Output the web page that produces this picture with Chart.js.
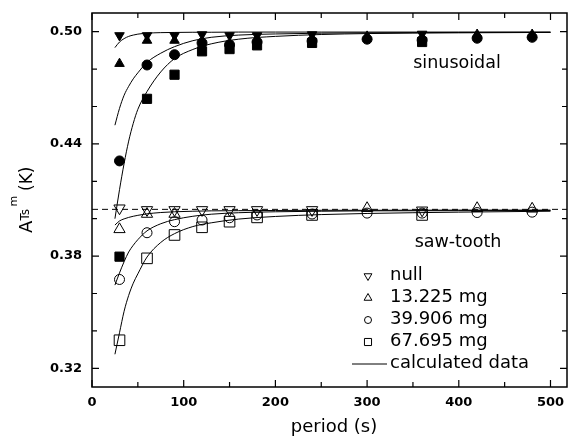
<!DOCTYPE html>
<html>
<head>
<meta charset="utf-8">
<script src="https://cdn.jsdelivr.net/npm/chart.js@4.4.0/dist/chart.umd.min.js"></script>
<style>
html, body { margin: 0; padding: 0; background: #fff; }
</style>
</head>
<body>
<canvas id="chart" width="568" height="437"></canvas>
<script>
// measured periods (s)
const periods = [30, 60, 90, 120, 150, 180, 240, 300, 360, 420, 480];

// sinusoidal excitation (filled markers)
const sinNull = [0.498, 0.498, 0.498, 0.4985, 0.498, 0.498, 0.4985, null, 0.4988, null, null];
const sin13 = [0.4829, 0.4953, 0.4953, null, null, null, null, 0.4975, null, 0.4985, 0.4985];
const sin39 = [0.4309, 0.4822, 0.4877, 0.494, 0.493, 0.4945, 0.495, 0.496, 0.4955, 0.4965, 0.497];
const sin67 = [0.3797, 0.4641, 0.477, 0.4895, 0.4907, 0.4927, 0.494, null, 0.4945, null, null];

// saw-tooth excitation (open markers)
const sawNull = [0.4056, 0.4047, 0.4047, 0.4047, 0.4047, 0.4047, 0.4047, null, 0.4045, null, null];
const saw13 = [0.3943, 0.4025, 0.4025, null, null, null, null, 0.4056, null, 0.4056, 0.4053];
const saw39 = [0.3675, 0.3925, 0.3984, 0.3993, 0.4005, 0.402, 0.4025, 0.403, 0.403, 0.4033, 0.4035];
const saw67 = [0.335, 0.3788, 0.3913, 0.3954, 0.3984, 0.4007, 0.402, null, 0.402, null, null];

// calculated curves
const curveX = [25, 30, 35, 40, 45, 50, 60, 75, 90, 110, 130, 160, 200, 250, 300, 400, 500];
const calcSinA = [0.4915, 0.4945, 0.4963, 0.4975, 0.4982, 0.4987, 0.4992, 0.4995, 0.4996, 0.4997, 0.4997, 0.4998, 0.4998, 0.4998, 0.4998, 0.4998, 0.4998];
const calcSinB = [0.450, 0.459, 0.466, 0.4708, 0.4748, 0.478, 0.4836, 0.4885, 0.492, 0.4952, 0.497, 0.4982, 0.4988, 0.4992, 0.4994, 0.4996, 0.4997];
const calcSinC = [0.400, 0.4155, 0.4295, 0.4415, 0.451, 0.4585, 0.468, 0.4785, 0.4856, 0.4905, 0.4935, 0.496, 0.4975, 0.4985, 0.499, 0.4994, 0.4996];
const calcSawD = [0.3966, 0.3988, 0.3999, 0.4007, 0.4013, 0.4018, 0.4026, 0.4033, 0.4037, 0.404, 0.4042, 0.4043, 0.4044, 0.4045, 0.4045, 0.4046, 0.4046];
const calcSawE = [0.3645, 0.371, 0.377, 0.3822, 0.3858, 0.3888, 0.3935, 0.3973, 0.3995, 0.4013, 0.4024, 0.4032, 0.4037, 0.404, 0.4042, 0.4043, 0.4044];
const calcSawF = [0.3275, 0.339, 0.3505, 0.359, 0.3655, 0.3705, 0.3795, 0.3873, 0.392, 0.3958, 0.3978, 0.3998, 0.4012, 0.4022, 0.4028, 0.4035, 0.404];

// dashed reference level
const dashX = [0, 518];
const dashY = [0.405, 0.405];

const xLabels = [0, 100, 200, 300, 400, 500];
const yLabels = [0.32, 0.38, 0.44, 0.50];
const legendLabels = ["null", "13.225 mg", "39.906 mg", "67.695 mg", "calculated data"];

const pts = (xs, ys) => xs.map((x, i) => ({x: x, y: ys[i]})).filter(p => p.y !== null);

function markers(ys, style, filled, radius, rotation) {
    return {
        data: pts(periods, ys),
        showLine: false,
        pointStyle: style,
        pointRadius: radius,
        pointRotation: rotation || 0,
        pointBackgroundColor: filled ? "#000" : "rgba(0,0,0,0)",
        pointBorderColor: "#000",
        pointBorderWidth: 1
    };
}

function curve(xs, ys, dash) {
    return {
        data: pts(xs, ys),
        showLine: true,
        pointRadius: 0,
        borderColor: "#000",
        borderWidth: 1,
        borderDash: dash ? [6, 4] : [],
        cubicInterpolationMode: "monotone",
        fill: false
    };
}

const frame = {
    id: "frame",
    afterDraw(chart) {
        const {ctx, chartArea: a, scales: {x, y}} = chart;
        ctx.save();
        ctx.strokeStyle = "#000";
        ctx.lineWidth = 1.5;
        ctx.strokeRect(a.left, a.top, a.right - a.left, a.bottom - a.top);

        ctx.lineWidth = 1.2;
        ctx.beginPath();
        for (let v = 0; v <= 500; v += 50) {
            const px = x.getPixelForValue(v);
            const len = v % 100 === 0 ? 7 : 5;
            ctx.moveTo(px, a.bottom); ctx.lineTo(px, a.bottom - len);
            ctx.moveTo(px, a.top); ctx.lineTo(px, a.top + len);
        }
        for (let k = 0; k <= 9; k++) {
            const v = 0.32 + k * 0.02;
            const py = y.getPixelForValue(v);
            const len = k % 3 === 0 ? 7 : 5;
            ctx.moveTo(a.left, py); ctx.lineTo(a.left + len, py);
            ctx.moveTo(a.right, py); ctx.lineTo(a.right - len, py);
        }
        ctx.stroke();

        // labels inside plot
        ctx.fillStyle = "#000";
        ctx.textBaseline = "middle";
        ctx.textAlign = "center";
        ctx.font = "17.5px 'DejaVu Sans'";
        ctx.fillText("sinusoidal", 457, 63);
        ctx.fillText("saw-tooth", 458, 242);

        // legend
        const styles = [
            {pointStyle: "triangle", radius: 4.5, rotation: 180},
            {pointStyle: "triangle", radius: 4.5, rotation: 0},
            {pointStyle: "circle", radius: 3.5, rotation: 0},
            {pointStyle: "rect", radius: 5, rotation: 0}
        ];
        ctx.font = "18px 'DejaVu Sans'";
        ctx.textAlign = "left";
        legendLabels.forEach((lab, i) => {
            const ry = 275 + i * 22;
            if (i < 4) {
                ctx.fillStyle = "rgba(0,0,0,0)";
                ctx.strokeStyle = "#000";
                ctx.lineWidth = 1;
                Chart.helpers.drawPoint(ctx, Object.assign({borderWidth: 1}, styles[i]), 368, ry + 1);
            } else {
                ctx.strokeStyle = "#000";
                ctx.lineWidth = 1;
                ctx.beginPath();
                ctx.moveTo(352, ry + 1); ctx.lineTo(387, ry + 1);
                ctx.stroke();
            }
            ctx.fillStyle = "#000";
            ctx.fillText(lab, 390, ry);
        });

        // axis titles
        ctx.textAlign = "center";
        ctx.font = "18px 'DejaVu Sans'";
        ctx.fillText("period (s)", 334, 427);

        ctx.translate(32, 200);
        ctx.rotate(-Math.PI / 2);
        ctx.textAlign = "left";
        ctx.textBaseline = "alphabetic";
        ctx.font = "18px 'DejaVu Sans'";
        ctx.fillText("A", -33, 0);
        ctx.font = "12px 'DejaVu Sans'";
        ctx.fillText("Ts", -20.5, -3);
        ctx.font = "11px 'DejaVu Sans'";
        ctx.fillText("m", -6.5, -15);
        ctx.font = "17px 'DejaVu Sans'";
        ctx.fillText("(K)", 9, 0);
        ctx.restore();
    }
};

Chart.defaults.font.family = "'DejaVu Sans'";
Chart.defaults.color = "#000";

const ctx = document.getElementById("chart").getContext("2d");
window.periodChart = new Chart(ctx, {
    type: "scatter",
    data: {
        datasets: [
            markers(sinNull, "triangle", true, 5.5, 180),
            markers(sin13, "triangle", true, 5.5, 0),
            markers(sin39, "circle", true, 5),
            markers(sin67, "rect", true, 6.5),
            markers(sawNull, "triangle", false, 6.5, 180),
            markers(saw13, "triangle", false, 6.5, 0),
            markers(saw39, "circle", false, 5),
            markers(saw67, "rect", false, 7.5),
            curve(curveX, calcSinA),
            curve(curveX, calcSinB),
            curve(curveX, calcSinC),
            curve(curveX, calcSawD),
            curve(curveX, calcSawE),
            curve(curveX, calcSawF),
            curve(dashX, dashY, true)
        ]
    },
    options: {
        responsive: false,
        animation: false,
        events: [],
        layout: { autoPadding: false, padding: { top: 13, right: 1, left: 0, bottom: 0 } },
        plugins: { legend: { display: false }, tooltip: { enabled: false } },
        scales: {
            x: {
                type: "linear",
                min: 0,
                max: 518,
                grid: { display: false, drawTicks: false },
                border: { display: false },
                afterBuildTicks: s => { s.ticks = xLabels.map(v => ({value: v})); },
                afterFit: s => { s.height = 50; s.paddingLeft = 0; s.paddingRight = 0; },
                ticks: { font: { size: 13, weight: "bold" }, padding: 8, maxRotation: 0 }
            },
            y: {
                type: "linear",
                min: 0.31,
                max: 0.51,
                grid: { display: false, drawTicks: false },
                border: { display: false },
                afterBuildTicks: s => { s.ticks = yLabels.map(v => ({value: v})); },
                afterFit: s => { s.width = 92; s.paddingTop = 0; s.paddingBottom = 0; },
                ticks: { font: { size: 13, weight: "bold" }, padding: 10, callback: v => v.toFixed(2) }
            }
        }
    },
    plugins: [frame]
});
</script>
</body>
</html>
